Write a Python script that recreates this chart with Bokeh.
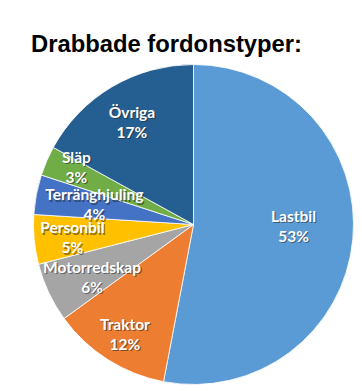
import math
from bokeh.plotting import figure
from bokeh.models import ColumnDataSource, Range1d, Label
from bokeh.core.properties import value
from bokeh.embed import file_html
from bokeh.resources import INLINE

# ---- data ----
categories = ["Lastbil", "Traktor", "Motorredskap", "Personbil", "Terränghjuling", "Släp", "Övriga"]
shares = [53, 12, 6, 5, 4, 3, 17]
colors = ["#5B9BD5", "#ED7D31", "#A5A5A5", "#FFC000", "#4472C4", "#70AD47", "#255E91"]
title_text = "Drabbade fordonstyper:"

# ---- layout parameters: label distance (fraction of radius) and angular nudge (deg, clockwise) ----
label_r = [0.625, 0.80, 0.71, 0.76, 0.634, 0.82, 0.756]
label_nudge = [-5.4, 0.0, -1.5, 0.0, 1.5, 3.4, 0.0]

total = float(sum(shares))
starts, ends, lx, ly, pct = [], [], [], [], []
cum = 0.0
for s, lr, nd in zip(shares, label_r, label_nudge):
    a0 = math.pi / 2 - 2 * math.pi * cum / total
    cum += s
    a1 = math.pi / 2 - 2 * math.pi * cum / total
    starts.append(a0)
    ends.append(a1)
    mid = (a0 + a1) / 2 - math.radians(nd)
    lx.append(lr * math.cos(mid))
    ly.append(lr * math.sin(mid))
    pct.append(f"{round(100 * s / total)}%")

src = ColumnDataSource(dict(start=starts, end=ends, color=colors,
                            lx=lx, ly=ly, name=categories, pct=pct))

R = 160.0  # pixels per data unit
W, H = 362, 391
cx, cy = 193.0, 224.0  # pie centre in page pixels
p = figure(width=W, height=H, output_backend="svg", toolbar_location=None,
           x_range=Range1d(-cx / R, (W - cx) / R),
           y_range=Range1d(-(H - cy) / R, cy / R),
           min_border=0, outline_line_color=None)
p.axis.visible = False
p.grid.visible = False
p.background_fill_color = "white"

p.wedge(x=0, y=0, radius=1.0, start_angle="start", end_angle="end", direction="clock",
        fill_color="color", line_color="white", line_width=0.8, source=src)

font = value("Lato")
for dx, dy, col, alpha in [(1.2, 1.2, "#202020", 0.5), (0, 0, "white", 1.0)]:
    p.text(x="lx", y="ly", text="name", source=src, text_align="center",
           text_baseline="alphabetic", text_font=font, text_font_style="bold",
           text_font_size="15.5px", text_color=col, text_alpha=alpha,
           x_offset=dx, y_offset=-8.5 + dy)
    p.text(x="lx", y="ly", text="pct", source=src, text_align="center",
           text_baseline="alphabetic", text_font=font, text_font_style="bold",
           text_font_size="15.5px", text_color=col, text_alpha=alpha,
           x_offset=dx, y_offset=11.5 + dy)

p.add_layout(Label(x=(166 - cx) / R, y=(cy - 43) / R, text=title_text,
                   text_align="center", text_baseline="alphabetic",
                   text_font="Liberation Sans", text_font_style="bold",
                   text_font_size="23.8px", text_color="black"))

open("out.html", "w").write(file_html(p, INLINE))
